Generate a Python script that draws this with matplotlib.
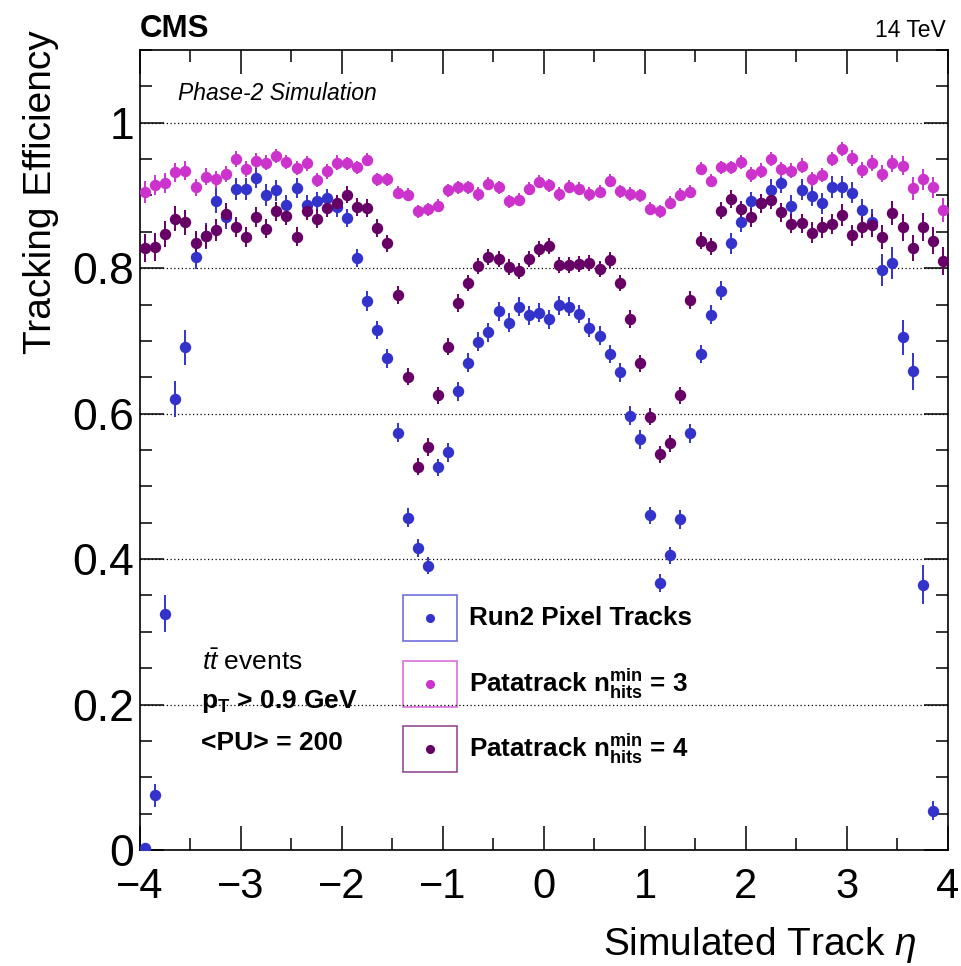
import numpy as np
import matplotlib
matplotlib.use("Agg")
import matplotlib.pyplot as plt
from matplotlib.patches import Rectangle
from matplotlib.ticker import MultipleLocator, FormatStrFormatter

plt.rcParams['font.family'] = ['Liberation Sans', 'DejaVu Sans']
plt.rcParams['mathtext.fontset'] = 'custom'
plt.rcParams['mathtext.rm'] = 'Liberation Sans'
plt.rcParams['mathtext.it'] = 'Liberation Sans:italic'
plt.rcParams['mathtext.bf'] = 'Liberation Sans:bold'

# 80 eta bins of width 0.1 between -4 and 4 (bin centres)
eta = np.linspace(-3.95, 3.95, 80)

# Run2 pixel tracks
eff_run2 = [
    0.003, 0.075, 0.325, 0.620, 0.691, 0.816, 0.844, 0.893, 0.870, 0.909,
    0.909, 0.924, 0.901, 0.907, 0.887, 0.910, 0.887, 0.892, 0.896, 0.884,
    0.869, 0.814, 0.755, 0.715, 0.676, 0.574, 0.457, 0.415, 0.391, 0.526,
    0.547, 0.631, 0.670, 0.699, 0.712, 0.741, 0.725, 0.747, 0.735, 0.739,
    0.730, 0.749, 0.747, 0.737, 0.718, 0.707, 0.682, 0.657, 0.597, 0.565,
    0.460, 0.367, 0.405, 0.455, 0.573, 0.682, 0.736, 0.769, 0.834, 0.863,
    0.892, 0.889, 0.908, 0.917, 0.886, 0.908, 0.899, 0.889, 0.912, 0.912,
    0.904, 0.880, 0.863, 0.798, 0.807, 0.705, 0.658, 0.365, 0.054, np.nan]
err_run2 = [
    0.004, 0.016, 0.025, 0.025, 0.024, 0.017, 0.018, 0.017, 0.016, 0.015,
    0.015, 0.014, 0.015, 0.014, 0.014, 0.014, 0.014, 0.013, 0.013, 0.013,
    0.013, 0.013, 0.014, 0.013, 0.013, 0.013, 0.013, 0.012, 0.012, 0.012,
    0.013, 0.013, 0.013, 0.013, 0.013, 0.013, 0.013, 0.013, 0.013, 0.013,
    0.013, 0.013, 0.013, 0.013, 0.013, 0.013, 0.013, 0.013, 0.013, 0.013,
    0.012, 0.012, 0.012, 0.013, 0.013, 0.013, 0.013, 0.013, 0.014, 0.013,
    0.013, 0.013, 0.014, 0.014, 0.014, 0.014, 0.014, 0.014, 0.015, 0.015,
    0.015, 0.015, 0.018, 0.022, 0.022, 0.024, 0.025, 0.027, 0.013, np.nan]

# Patatrack, n_hits^min = 3
eff_pata3 = [
    0.905, 0.914, 0.917, 0.932, 0.934, 0.911, 0.926, 0.922, 0.930, 0.950,
    0.937, 0.948, 0.945, 0.954, 0.946, 0.938, 0.944, 0.921, 0.933, 0.945,
    0.944, 0.939, 0.949, 0.922, 0.922, 0.904, 0.901, 0.878, 0.881, 0.886,
    0.907, 0.911, 0.911, 0.902, 0.916, 0.911, 0.892, 0.894, 0.909, 0.919,
    0.914, 0.902, 0.912, 0.909, 0.902, 0.905, 0.920, 0.906, 0.902, 0.900,
    0.882, 0.878, 0.890, 0.901, 0.905, 0.937, 0.920, 0.939, 0.939, 0.946,
    0.929, 0.934, 0.950, 0.936, 0.934, 0.941, 0.922, 0.928, 0.950, 0.964,
    0.951, 0.935, 0.944, 0.930, 0.944, 0.941, 0.910, 0.922, 0.911, 0.880]
err_pata3 = [
    0.015, 0.014, 0.014, 0.013, 0.013, 0.012, 0.012, 0.012, 0.011, 0.011,
    0.011, 0.010, 0.010, 0.010, 0.010, 0.010, 0.010, 0.010, 0.010, 0.010,
    0.009, 0.009, 0.009, 0.009, 0.009, 0.009, 0.009, 0.009, 0.009, 0.009,
    0.009, 0.009, 0.009, 0.009, 0.009, 0.009, 0.009, 0.009, 0.009, 0.009,
    0.009, 0.009, 0.009, 0.009, 0.009, 0.009, 0.009, 0.009, 0.009, 0.009,
    0.009, 0.009, 0.009, 0.009, 0.009, 0.009, 0.009, 0.009, 0.009, 0.009,
    0.010, 0.010, 0.010, 0.010, 0.010, 0.010, 0.010, 0.010, 0.010, 0.010,
    0.011, 0.011, 0.011, 0.012, 0.012, 0.013, 0.016, 0.014, 0.015, 0.016]

# Patatrack, n_hits^min = 4
eff_pata4 = [
    0.828, 0.829, 0.847, 0.868, 0.863, 0.835, 0.844, 0.853, 0.874, 0.857,
    0.843, 0.870, 0.854, 0.878, 0.872, 0.843, 0.879, 0.868, 0.883, 0.889,
    0.901, 0.884, 0.883, 0.855, 0.834, 0.763, 0.651, 0.527, 0.554, 0.625,
    0.692, 0.752, 0.779, 0.803, 0.816, 0.812, 0.802, 0.796, 0.813, 0.826,
    0.830, 0.804, 0.805, 0.806, 0.807, 0.799, 0.811, 0.779, 0.730, 0.669,
    0.596, 0.544, 0.559, 0.625, 0.756, 0.838, 0.830, 0.879, 0.895, 0.881,
    0.870, 0.889, 0.894, 0.877, 0.861, 0.862, 0.849, 0.856, 0.861, 0.873,
    0.845, 0.857, 0.859, 0.843, 0.876, 0.856, 0.828, 0.857, 0.838, 0.810]
err_pata4 = [
    0.019, 0.019, 0.018, 0.017, 0.017, 0.016, 0.016, 0.015, 0.015, 0.014,
    0.014, 0.014, 0.013, 0.013, 0.013, 0.013, 0.013, 0.013, 0.012, 0.012,
    0.012, 0.012, 0.012, 0.012, 0.012, 0.012, 0.012, 0.012, 0.012, 0.012,
    0.012, 0.012, 0.011, 0.011, 0.011, 0.011, 0.011, 0.011, 0.011, 0.011,
    0.011, 0.011, 0.011, 0.011, 0.011, 0.011, 0.011, 0.011, 0.012, 0.012,
    0.012, 0.012, 0.012, 0.012, 0.012, 0.012, 0.012, 0.012, 0.012, 0.012,
    0.013, 0.013, 0.013, 0.013, 0.013, 0.013, 0.014, 0.014, 0.014, 0.015,
    0.015, 0.015, 0.016, 0.016, 0.017, 0.018, 0.018, 0.019, 0.019, 0.019]

labels = ['Run2 Pixel Tracks',
          r'Patatrack $\mathbf{n}_{\mathbf{hits}}^{\mathbf{min}}$ = 3',
          r'Patatrack $\mathbf{n}_{\mathbf{hits}}^{\mathbf{min}}$ = 4']
colors = ['#3333cc', '#cc33cc', '#660066']

fig = plt.figure(figsize=(9.62, 9.66), dpi=100)
ax = fig.add_axes([0.1455, 0.1201, 0.8399, 0.8281])

series = [(eff_run2, err_run2), (eff_pata3, err_pata3), (eff_pata4, err_pata4)]
for (vals, errs), col in zip(series, colors):
    ax.errorbar(eta, vals, yerr=errs, fmt='o', color=col, ecolor=col,
                markersize=7.2, elinewidth=1.4, capsize=0, zorder=3)

ax.set_xlim(-4, 4)
ax.set_ylim(0, 1.1)
ax.xaxis.set_major_locator(MultipleLocator(1))
ax.xaxis.set_minor_locator(MultipleLocator(0.5))
ax.yaxis.set_major_locator(MultipleLocator(0.2))
ax.yaxis.set_minor_locator(MultipleLocator(0.05))
ax.yaxis.set_major_formatter(FormatStrFormatter('%g'))
ax.tick_params(which='both', direction='in', top=True, right=True, width=1.1)
ax.tick_params(which='major', length=17)
ax.tick_params(which='minor', length=8.5)
ax.tick_params(axis='x', which='major', labelsize=30, pad=12)
ax.tick_params(axis='y', which='major', labelsize=32, pad=4)
for sp in ax.spines.values():
    sp.set_linewidth(1.2)
ax.grid(axis='y', which='major', linestyle=(0, (1, 2)), color='black', linewidth=0.9)

ax.set_xlabel(r'Simulated Track $\eta$', fontsize=28, loc='right')
ax.xaxis.set_label_coords(0.961, -0.094)
ax.set_ylabel('Tracking Efficiency', fontsize=28, loc='top')
ax.yaxis.set_label_coords(-0.100, 1.025)

# header texts
ax.text(0.0, 1.016, 'CMS', transform=ax.transAxes, fontsize=22.5,
        fontweight='bold', ha='left', va='baseline')
ax.text(0.997, 1.016, '14 TeV', transform=ax.transAxes, fontsize=16.5,
        ha='right', va='baseline')
ax.text(0.047, 0.9375, 'Phase-2 Simulation', transform=ax.transAxes,
        fontsize=16.5, style='italic', ha='left', va='baseline')

# event description
ax.text(0.077, 0.225, r'$t\bar{t}$ events', transform=ax.transAxes,
        fontsize=19, ha='left', va='baseline')
ax.text(0.075, 0.178, r'$\mathbf{p}_{\mathbf{T}}$ > 0.9 GeV', transform=ax.transAxes,
        fontsize=19, fontweight='bold', ha='left', va='baseline')
ax.text(0.075, 0.125, '<PU> = 200', transform=ax.transAxes,
        fontsize=19, fontweight='bold', ha='left', va='baseline')

# legend drawn as framed boxes
box_y = [0.261, 0.179, 0.0975]
for y0, lab, col in zip(box_y, labels, colors):
    ax.add_patch(Rectangle((0.3255, y0), 0.067, 0.0575, transform=ax.transAxes,
                           fill=False, edgecolor=col, alpha=0.7, linewidth=1.2))
    ax.plot([0.359], [y0 + 0.02875], 'o', color=col, markersize=5.5,
            transform=ax.transAxes)
    ax.text(0.407, y0 + 0.02875, lab, transform=ax.transAxes, fontsize=18.7,
            fontweight='bold', ha='left', va='center')

fig.savefig('out.png', dpi=100)
